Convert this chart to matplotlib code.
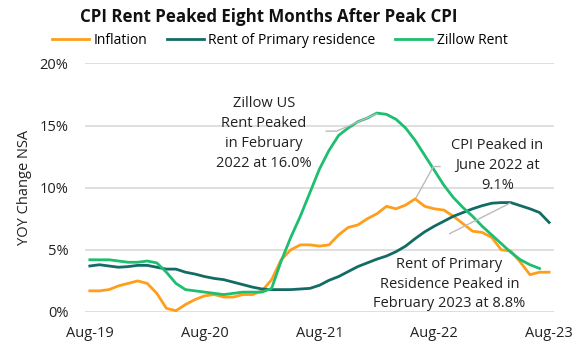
import matplotlib
matplotlib.use("Agg")
import matplotlib.pyplot as plt

plt.rcParams['font.family'] = ['Open Sans', 'DejaVu Sans']

# monthly, Aug-19 .. Aug-23
months = ['Aug-19', 'Sep-19', 'Oct-19', 'Nov-19', 'Dec-19',
          'Jan-20', 'Feb-20', 'Mar-20', 'Apr-20', 'May-20', 'Jun-20', 'Jul-20', 'Aug-20',
          'Sep-20', 'Oct-20', 'Nov-20', 'Dec-20',
          'Jan-21', 'Feb-21', 'Mar-21', 'Apr-21', 'May-21', 'Jun-21', 'Jul-21', 'Aug-21',
          'Sep-21', 'Oct-21', 'Nov-21', 'Dec-21',
          'Jan-22', 'Feb-22', 'Mar-22', 'Apr-22', 'May-22', 'Jun-22', 'Jul-22', 'Aug-22',
          'Sep-22', 'Oct-22', 'Nov-22', 'Dec-22',
          'Jan-23', 'Feb-23', 'Mar-23', 'Apr-23', 'May-23', 'Jun-23', 'Jul-23', 'Aug-23']

inflation = [1.7, 1.7, 1.8, 2.1, 2.3, 2.5, 2.3, 1.5, 0.3, 0.1, 0.6, 1.0, 1.3,
             1.4, 1.2, 1.2, 1.4, 1.4, 1.7, 2.6, 4.2, 5.0, 5.4, 5.4, 5.3,
             5.4, 6.2, 6.8, 7.0, 7.5, 7.9, 8.5, 8.3, 8.6, 9.1, 8.5, 8.3,
             8.2, 7.7, 7.1, 6.5, 6.4, 6.0, 5.0, 4.9, 4.0, 3.0, 3.2, 3.2]

rent_primary = [3.7, 3.8, 3.7, 3.6, 3.65, 3.75, 3.75, 3.6, 3.45, 3.45, 3.2, 3.05, 2.85,
                2.7, 2.6, 2.4, 2.2, 2.0, 1.85, 1.8, 1.8, 1.8, 1.85, 1.9, 2.15,
                2.55, 2.85, 3.25, 3.65, 3.95, 4.25, 4.5, 4.85, 5.3, 5.9, 6.45, 6.9,
                7.3, 7.7, 8.0, 8.3, 8.55, 8.75, 8.8, 8.8, 8.55, 8.3, 8.0, 7.2]

zillow = [4.2, 4.2, 4.2, 4.1, 4.0, 4.0, 4.1, 3.95, 3.2, 2.3, 1.8, 1.7, 1.6,
          1.5, 1.4, 1.5, 1.6, 1.6, 1.6, 1.9, 4.1, 6.0, 7.7, 9.6, 11.5,
          13.0, 14.2, 14.8, 15.3, 15.6, 16.0, 15.9, 15.5, 14.8, 13.8, 12.6, 11.4,
          10.2, 9.2, 8.4, 7.7, 6.9, 6.2, 5.5, 4.8, 4.2, 3.8, 3.5]

yticks = [0, 5, 10, 15, 20]

fig = plt.figure(figsize=(5.8, 3.5), dpi=100)
ax = fig.add_axes([0.1466, 0.1086, 0.8084, 0.7104])

x = list(range(len(months)))
ax.plot(x, inflation, color='#FF9E1B', lw=2, label='Inflation')
ax.plot(x, rent_primary, color='#136B65', lw=2, label='Rent of Primary residence')
ax.plot(x[:len(zillow)], zillow, color='#1DBE6F', lw=2, label='Zillow Rent')

ax.set_xlim(-0.5, len(months) - 0.5)
ax.set_ylim(0, 20)
ax.set_yticks(yticks)
ax.set_yticklabels([f'{v}%' for v in yticks])
ax.set_xticks(x[::12])
ax.set_xticklabels(months[::12])
ax.tick_params(length=0, labelsize=10.5, colors='#222222')
ax.tick_params(axis='x', pad=10)
ax.tick_params(axis='y', pad=12)
ax.grid(axis='y', color='#D9D9D9', lw=1.2)
ax.set_axisbelow(True)
for s in ax.spines.values():
    s.set_visible(False)
ax.set_ylabel('YOY Change NSA', fontsize=10.5, color='#222222', labelpad=5)

fig.text(0.464, 0.952, 'CPI Rent Peaked Eight Months After Peak CPI',
         ha='center', va='center', fontsize=12.2, fontweight='bold', color='#111111')
fig.legend(loc='center', bbox_to_anchor=(0.482, 0.884), ncol=3, frameon=False,
           fontsize=10, handlelength=2.7, handletextpad=0.3, columnspacing=1.4)

gray = '#BBBBBB'
# Zillow peak
ax.text(18.2, 14.35, 'Zillow US\nRent Peaked\nin February\n2022 at 16.0%',
        ha='center', va='center', fontsize=10.5, linespacing=1.45, color='#222222')
ax.plot([24.7, 25.8, 30], [14.55, 14.55, 15.95], color=gray, lw=1)
# CPI peak
ax.text(42.6, 11.75, 'CPI Peaked in\nJune 2022 at\n9.1%', ha='center', va='center',
        fontsize=10.5, linespacing=1.45, color='#222222')
ax.plot([36.6, 35.9, 34.1], [11.7, 11.7, 9.2], color=gray, lw=1)
# Rent peak
ax.text(37.6, 2.25, 'Rent of Primary\nResidence Peaked in\nFebruary 2023 at 8.8%',
        ha='center', va='center', fontsize=10.5, linespacing=1.45, color='#222222')
ax.plot([37.6, 43.9], [6.3, 8.75], color=gray, lw=1)

fig.savefig('out.png', dpi=100)
